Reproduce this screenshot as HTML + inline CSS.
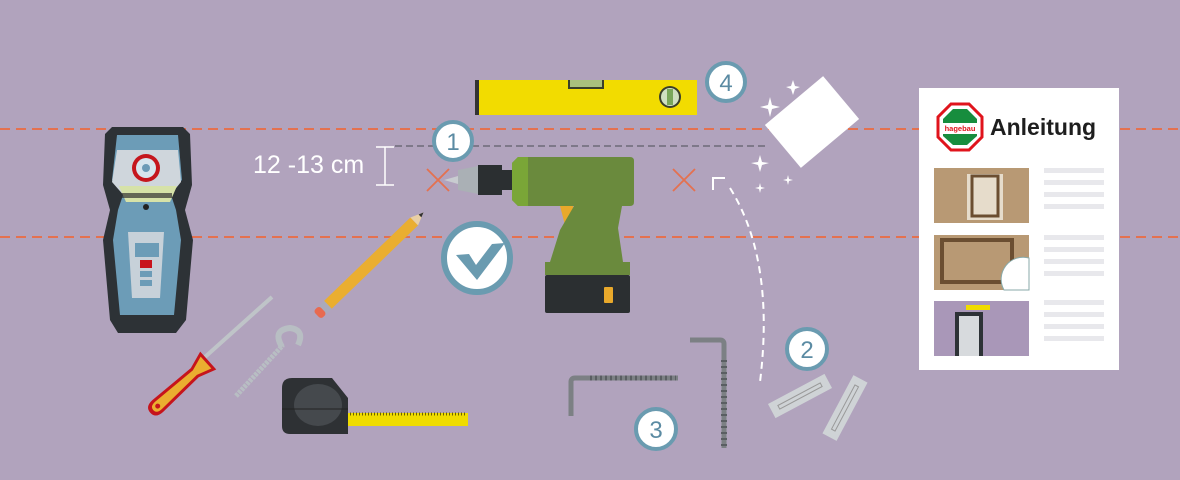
<!DOCTYPE html>
<html><head><meta charset="utf-8"><style>
html,body{margin:0;padding:0;background:#b1a3bd;}
svg{display:block;font-family:"Liberation Sans",sans-serif;}
</style></head><body>
<svg width="1180" height="480" viewBox="0 0 1180 480">
<rect width="1180" height="480" fill="#b1a3bd"/>
<line x1="0" y1="129" x2="1180" y2="129" stroke="#e4714f" stroke-width="2" stroke-dasharray="10 6"/>
<line x1="0" y1="237" x2="1180" y2="237" stroke="#e4714f" stroke-width="2" stroke-dasharray="10 6"/>
<line x1="395" y1="146" x2="765" y2="146" stroke="#6e6a78" stroke-width="1.5" stroke-dasharray="7 4"/>

<!-- stud finder -->
<path d="M112 127 H183 L190 134 L192 185 L185 210 L193 240 L186 320 L176 333 H118 L110 320 L103 240 L110 210 L103 185 L105 134 Z" fill="#2d3236"/>
<path d="M117 135 H178 L182 180 L170 192 L176 210 L181 240 L174 315 H120 L113 240 L118 210 L124 192 L112 180 Z" fill="#6c9cb7"/>
<path d="M117 150 H178 L181 182 L168 198 H126 L112 182 Z" fill="#cfd6dc"/>
<path d="M119 186 H177 L170 202 H126 Z" fill="#d6e2a8"/>
<rect x="122" y="193" width="50" height="5" fill="#333" opacity=".7"/>
<circle cx="146" cy="207" r="3" fill="#222"/>
<circle cx="146" cy="168" r="14" fill="#c5161d"/><circle cx="146" cy="168" r="10" fill="#d7e6ee"/><circle cx="146" cy="168" r="4" fill="#6c9cb7"/>
<path d="M128 232 L164 232 L160 298 H132 Z" fill="#c7d1d9"/>
<rect x="135" y="243" width="24" height="14" fill="#6c9cb7"/>
<rect x="140" y="260" width="12" height="8" fill="#c8141c"/>
<rect x="140" y="271" width="12" height="6" fill="#6c9cb7"/><rect x="140" y="280" width="12" height="6" fill="#6c9cb7"/>

<text x="253" y="173" font-size="25" fill="#fff">12 -13 cm</text>
<path d="M376 147 H394 M385 147 V185 M376 185 H394" stroke="#fff" stroke-width="1.5" fill="none"/>

<path d="M427 169 L449 191 M449 169 L427 191" stroke="#e4714f" stroke-width="1.8"/>
<path d="M673 169 L695 191 M695 169 L673 191" stroke="#e4714f" stroke-width="1.8"/>

<!-- level -->
<rect x="475" y="80" width="222" height="35" fill="#f2dc00"/>
<rect x="475" y="80" width="4" height="35" fill="#333"/>
<rect x="568" y="80" width="36" height="9" fill="#3a3f2a"/><rect x="570" y="80" width="32" height="7" fill="#a9c07d"/>
<circle cx="670" cy="97" r="11" fill="#3a3f2a"/><circle cx="670" cy="97" r="9" fill="#cfe0c0"/><rect x="667" y="89" width="6" height="16" fill="#79a75a"/>

<!-- eraser/sparkles -->
<rect x="774" y="94" width="76" height="56" fill="#fff" transform="rotate(-40 812 122)"/>
<g fill="#fff">
<path d="M770 97 L772 105 L780 107 L772 109 L770 117 L768 109 L760 107 L768 105Z"/>
<path d="M793 80 L795 86 L800 87 L795 89 L793 95 L791 89 L786 87 L791 86Z"/>
<path d="M760 155 L762 162 L769 163 L762 165 L760 172 L758 165 L751 163 L758 162Z"/>
<path d="M788 175 L789 179 L793 180 L789 181 L788 185 L787 181 L783 180 L787 179Z"/>
<path d="M760 183 L761 187 L765 188 L761 189 L760 193 L759 189 L755 188 L759 187Z"/>
</g>

<g font-size="24" fill="#5b8ba3" text-anchor="middle">
<circle cx="453" cy="141" r="19" fill="#fff" stroke="#6a9bb0" stroke-width="4"/><text x="453" y="150">1</text>
<circle cx="726" cy="82" r="19" fill="#fff" stroke="#6a9bb0" stroke-width="4"/><text x="726" y="91">4</text>
<circle cx="807" cy="349" r="20" fill="#fff" stroke="#6a9bb0" stroke-width="4"/><text x="807" y="358">2</text>
<circle cx="656" cy="429" r="20" fill="#fff" stroke="#6a9bb0" stroke-width="4"/><text x="656" y="438">3</text>
</g>

<!-- drill -->
<path d="M444 180 L458 176 L458 184 Z" fill="#c8ccd0"/>
<path d="M458 170 L478 166 V194 L458 190 Z" fill="#aab0b5"/>
<rect x="478" y="165" width="24" height="30" fill="#2b2f31"/>
<rect x="502" y="170" width="12" height="20" fill="#2b2f31"/>
<path d="M518 157 H630 Q634 157 634 161 V202 Q634 206 630 206 H518 L512 200 V163Z" fill="#6a8a3d"/>
<path d="M512 163 L518 157 H528 V206 H518 L512 200Z" fill="#7aa637"/>
<path d="M560 206 L573 206 L576 222 L565 225Z" fill="#e9a92b"/>
<path d="M574 206 H622 L618 228 L623 262 H550 L560 230 Z" fill="#6a8a3d"/>
<rect x="545" y="262" width="85" height="13" fill="#6a8a3d"/>
<rect x="545" y="275" width="85" height="38" rx="2" fill="#2b2f31"/>
<rect x="604" y="287" width="9" height="16" rx="1" fill="#e9a92b"/>

<ellipse cx="477" cy="258" rx="33" ry="34" fill="#fff" stroke="#6a9bb0" stroke-width="6"/>
<path d="M456 255 L469 254 L476 265 L492 244 L505 243 L477 280 Z" fill="#6a9bb0"/>

<!-- pencil -->
<g transform="rotate(-44 375 260)">
<rect x="310" y="254" width="120" height="11" fill="#eaae30"/>
<rect x="302" y="254" width="8" height="11" fill="#aab"/>
<rect x="295" y="254" width="8" height="11" rx="3" fill="#e86a50"/>
<path d="M430 254 L443 259.5 L430 265Z" fill="#e9cfa5"/>
<path d="M438 257.5 L443 259.5 L438 261.5Z" fill="#333"/>
</g>

<!-- screwdriver -->
<line x1="272" y1="297" x2="205" y2="357" stroke="#bfc4c8" stroke-width="4"/>
<g transform="rotate(-42 180 386)">
<path d="M140 386 Q140 378 150 378 L200 380 L218 374 L218 398 L200 392 L150 394 Q140 394 140 386Z" fill="#c6141c"/>
<path d="M144 386 Q144 381 151 381 L200 383 L215 378 L215 394 L200 389 L151 391 Q144 391 144 386Z" fill="#eaae30"/>
<circle cx="150" cy="386" r="2.5" fill="#c6141c"/>
</g>

<!-- hook screw -->
<line x1="236" y1="396" x2="283" y2="345" stroke="#b8bec3" stroke-width="5" stroke-dasharray="3 1"/>
<path d="M282 347 Q272 330 290 328 Q305 330 298 345" fill="none" stroke="#b8bec3" stroke-width="6"/>

<!-- tape measure -->
<path d="M292 378 H332 L348 398 V434 H290 Q282 434 282 426 V388 Q282 378 292 378Z" fill="#2e3134"/>
<ellipse cx="318" cy="405" rx="24" ry="21" fill="#45494d"/>
<line x1="282" y1="409" x2="348" y2="409" stroke="#222" stroke-width="1"/>
<rect x="348" y="413" width="120" height="13" fill="#f0dc00"/>
<line x1="350" y1="414" x2="466" y2="414" stroke="#6a6200" stroke-width="3" stroke-dasharray="1 2"/>

<!-- L screws -->
<path d="M571 416 V382 Q571 378 575 378 H678" fill="none" stroke="#7c8084" stroke-width="5"/>
<line x1="590" y1="378" x2="676" y2="378" stroke="#5a5e62" stroke-width="5" stroke-dasharray="2 3"/>
<path d="M690 340 H720 Q724 340 724 344 V448" fill="none" stroke="#7c8084" stroke-width="5"/>
<line x1="724" y1="360" x2="724" y2="446" stroke="#5a5e62" stroke-width="6" stroke-dasharray="2 4"/>

<!-- dowels -->
<g transform="rotate(-28 800 396)"><rect x="768" y="388" width="64" height="16" fill="#cfd3d6"/><rect x="776" y="394" width="48" height="4" fill="none" stroke="#999" stroke-width="1"/></g>
<g transform="rotate(-62 845 408)"><rect x="812" y="400" width="66" height="16" fill="#cfd3d6"/><rect x="820" y="406" width="50" height="4" fill="none" stroke="#999" stroke-width="1"/></g>

<path d="M713 190 V178 H725" fill="none" stroke="#fff" stroke-width="2"/>
<path d="M730 188 Q775 260 760 382" fill="none" stroke="#fff" stroke-width="2" stroke-dasharray="7 5"/>

<!-- document -->
<rect x="919" y="88" width="200" height="282" fill="#fff"/>
<path d="M951 104 H969 L982 117 V137 L969 150 H951 L938 137 V117Z" fill="#fff" stroke="#e0141c" stroke-width="3"/>
<path d="M953 109 H967 L977 119 V123 H943 V119Z" fill="#178d3e"/>
<path d="M943 134 H977 V136 L967 145 H953 L943 136Z" fill="#178d3e"/>
<text x="960" y="131" font-size="7.5" fill="#e0141c" text-anchor="middle" font-weight="bold">hagebau</text>
<text x="990" y="135" font-size="23" font-weight="bold" fill="#1e1e1e">Anleitung</text>
<rect x="934" y="168" width="95" height="55" fill="#b89974"/>
<rect x="967" y="174" width="36" height="46" fill="#e6dccb"/><rect x="972" y="176" width="26" height="40" fill="none" stroke="#6b4e31" stroke-width="3"/>
<rect x="934" y="235" width="95" height="55" fill="#b89974"/>
<rect x="942" y="240" width="70" height="42" fill="none" stroke="#6b4e31" stroke-width="4"/>
<path d="M1029 258 A 22 22 0 0 0 1004 290 H1029 Z" fill="#fff" stroke="#8aa" stroke-width="1"/>
<rect x="934" y="301" width="95" height="55" fill="#a997b8"/>
<rect x="955" y="312" width="28" height="44" fill="#2d3236"/><rect x="959" y="316" width="20" height="40" fill="#d7dadd"/>
<rect x="966" y="305" width="24" height="5" fill="#f0dc00"/>
<g fill="#e8e8ec">
<rect x="1044" y="168" width="60" height="5"/><rect x="1044" y="180" width="60" height="5"/><rect x="1044" y="192" width="60" height="5"/><rect x="1044" y="204" width="60" height="5"/>
<rect x="1044" y="235" width="60" height="5"/><rect x="1044" y="247" width="60" height="5"/><rect x="1044" y="259" width="60" height="5"/><rect x="1044" y="271" width="60" height="5"/>
<rect x="1044" y="300" width="60" height="5"/><rect x="1044" y="312" width="60" height="5"/><rect x="1044" y="324" width="60" height="5"/><rect x="1044" y="336" width="60" height="5"/>
</g>
</svg>
</body></html>
